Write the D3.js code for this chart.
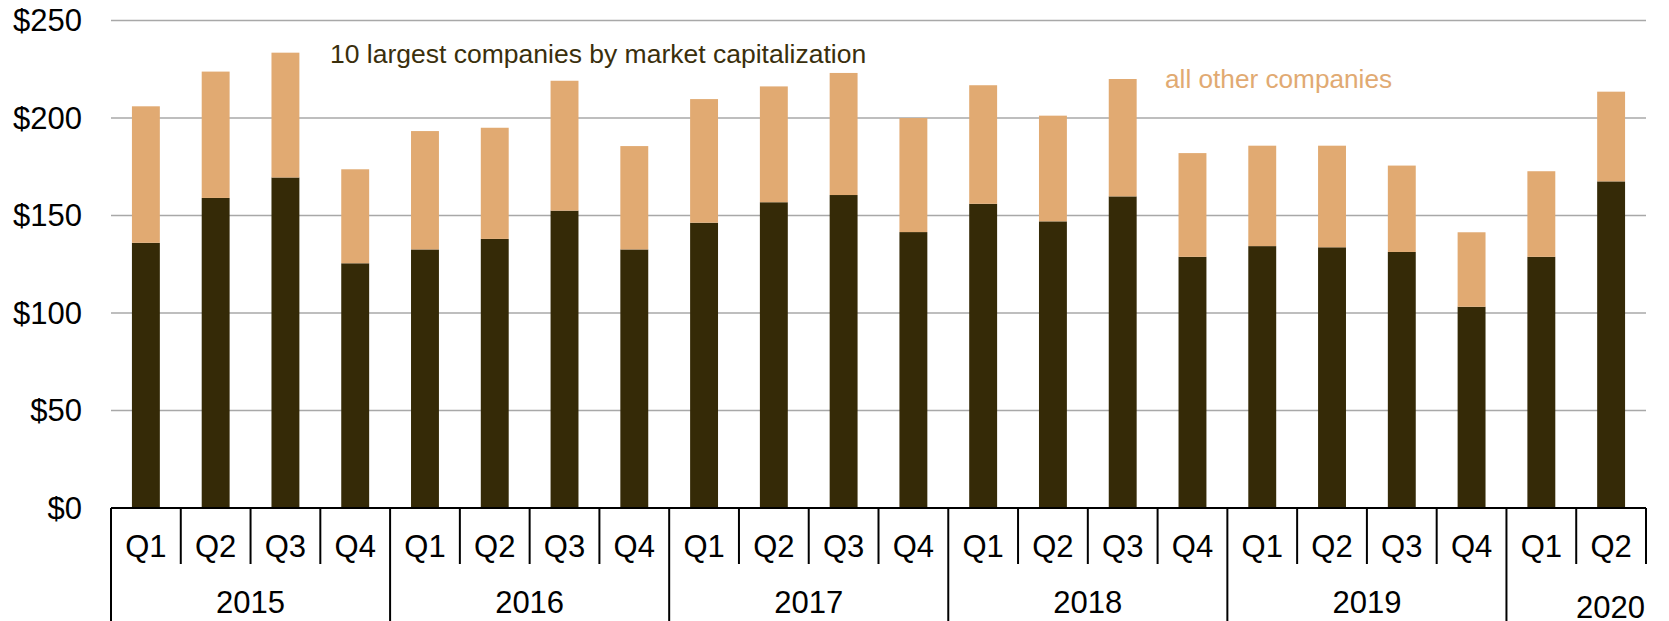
<!DOCTYPE html>
<html><head><meta charset="utf-8">
<script src="https://cdn.jsdelivr.net/npm/d3@7"></script>
<style>body{margin:0;background:#fff}svg{display:block}text{font-family:"Liberation Sans",Arial,sans-serif}</style>
</head><body><svg id="c" width="1669" height="621"></svg>
<script>
const years = ["2015","2016","2017","2018","2019","2020"];
const quarters = ["Q1","Q2","Q3","Q4","Q1","Q2","Q3","Q4","Q1","Q2","Q3","Q4","Q1","Q2","Q3","Q4","Q1","Q2","Q3","Q4","Q1","Q2"];
const quarterYears = ["2015","2015","2015","2015","2016","2016","2016","2016","2017","2017","2017","2017","2018","2018","2018","2018","2019","2019","2019","2019","2020","2020"];
const top10 = [136,159,169.5,125.5,132.6,138,152.5,132.6,146.3,156.8,160.5,141.5,156,147,159.8,128.8,134.3,133.7,131.3,103.2,128.8,167.5];
const totals = [206,223.8,233.5,173.7,193.3,195,219.1,185.6,209.7,216.2,223.1,200,216.8,201.2,220,182,185.8,185.8,175.6,141.4,172.7,213.5];
const others = totals.map((t,i)=>t-top10[i]);
const yTicks = [0,50,100,150,200,250];
const seriesNames = ["10 largest companies by market capitalization","all other companies"];
const colors = ["#352a07","#e1aa72"];

const svg = d3.select("#c");
const L = 111, R = 1646, T = 20.5, B = 508;
const x = d3.scaleBand().domain(d3.range(quarters.length)).range([L,R]).paddingInner(0.6).paddingOuter(0.3);
const y = d3.scaleLinear().domain([0,250]).range([B,T]);

// gridlines
svg.append("g").selectAll("line").data(yTicks.filter(d=>d>0)).join("line")
  .attr("x1",L).attr("x2",R).attr("y1",d=>y(d)).attr("y2",d=>y(d))
  .attr("stroke","#a8a8a8").attr("stroke-width",1.5);

// y labels
svg.append("g").selectAll("text").data(yTicks).join("text")
  .attr("x",82).attr("y",d=>y(d)).attr("dy","0.35em").attr("text-anchor","end")
  .attr("font-size",31).attr("fill","#000").text(d=>"$"+d);

// stacked bars
const stack = d3.stack().keys([0,1]).value((i,k)=> k===0 ? top10[i] : others[i]);
const layers = stack(d3.range(quarters.length));
svg.append("g").selectAll("g").data(layers).join("g").attr("fill",(d,i)=>colors[i])
  .selectAll("rect").data(d=>d).join("rect")
  .attr("x",d=>x(d.data)).attr("width",x.bandwidth())
  .attr("y",d=>y(d[1])).attr("height",d=>y(d[0])-y(d[1]));

// axis line
svg.append("line").attr("x1",L).attr("x2",R).attr("y1",B).attr("y2",B).attr("stroke","#000").attr("stroke-width",2);

// category separators
const bandStart = i => L + (R-L)/quarters.length*i;
const bw = (R-L)/quarters.length;
const seps = d3.range(quarters.length+1);
svg.append("g").selectAll("line").data(seps).join("line")
  .attr("x1",i=>bandStart(i)).attr("x2",i=>bandStart(i))
  .attr("y1",B).attr("y2",i=>{
    const isYear = i===0 || (i<quarters.length && quarterYears[i]!==quarterYears[i-1]);
    return isYear ? 621 : 564;
  })
  .attr("stroke","#000").attr("stroke-width",2);

// quarter labels
svg.append("g").selectAll("text").data(quarters).join("text")
  .attr("x",(d,i)=>bandStart(i)+bw/2).attr("y",557).attr("text-anchor","middle")
  .attr("font-size",31).attr("fill","#000").text(d=>d);

// year labels
svg.append("g").selectAll("text").data(years).join("text")
  .attr("x",yr=>{
    const idx = quarterYears.map((q,i)=>q===yr?i:-1).filter(i=>i>=0);
    if (yr==="2020") return R-1;
    return bandStart(idx[0]) + bw*idx.length/2;
  })
  .attr("y",yr=> yr==="2020" ? 618 : 613)
  .attr("text-anchor",yr=> yr==="2020" ? "end" : "middle")
  .attr("font-size",31).attr("fill","#000").text(d=>d);

// series labels
svg.append("text").attr("x",330).attr("y",63).attr("font-size",26.5).attr("fill","#3a2f0c").text(seriesNames[0]);
svg.append("text").attr("x",1165).attr("y",88).attr("font-size",26.2).attr("fill","#e1aa72").text(seriesNames[1]);
</script></body></html>
